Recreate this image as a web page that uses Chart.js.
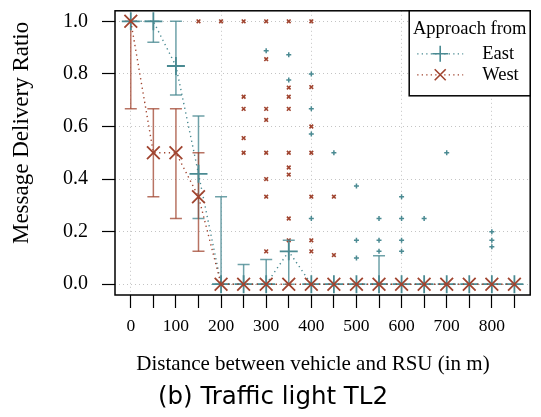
<!DOCTYPE html>
<html>
<head>
<meta charset="utf-8">
<script src="https://cdn.jsdelivr.net/npm/chart.js@4.4.0/dist/chart.umd.min.js"></script>
<style>
  html, body { margin: 0; padding: 0; background: #fff; }
  canvas { display: block; }
</style>
</head>
<body>
<canvas id="mdr" width="541" height="417"></canvas>
<script>
// distances (m) where the mean/error bars sit
const distances = [0, 50, 100, 150, 200, 250, 300, 350, 400, 450, 500, 550, 600, 650, 700, 750, 800, 850];

// approach from East
const eastMean = [1, 1, 0.83, 0.42, 0, 0, 0, 0.125, 0, 0, 0, 0, 0, 0, 0, 0, 0, 0];
const eastLow  = [1, 0.92, 0.72, 0.25, 0, 0, 0, 0, 0, 0, 0, 0, 0, 0, 0, 0, 0, 0];
const eastHigh = [1, 1, 1, 0.64, 0.333, 0.075, 0.094, 0.167, 0, 0, 0, 0.108, 0, 0, 0, 0, 0, 0];

// approach from West
const westMean = [1, 0.5, 0.5, 0.333, 0, 0, 0, 0, 0, 0, 0, 0, 0, 0, 0, 0, 0, 0];
const westLow  = [0.667, 0.333, 0.25, 0.125, 0, 0, 0, 0, 0, 0, 0, 0, 0, 0, 0, 0, 0, 0];
const westHigh = [1, 0.667, 0.667, 0.5, 0, 0, 0, 0, 0, 0, 0, 0, 0, 0, 0, 0, 0, 0];

// single runs (small markers)
const eastRunX = [300, 350, 350, 400, 400, 400, 400, 450, 500, 500, 500, 550, 550, 550, 600, 600, 600, 600, 650, 700, 800, 800, 800];
const eastRunY = [0.888, 0.873, 0.777, 0.8, 0.667, 0.571, 0.25, 0.5, 0.374, 0.167, 0.1, 0.25, 0.167, 0.125, 0.333, 0.25, 0.167, 0.125, 0.25, 0.5, 0.2, 0.167, 0.143];

const westRunX = [150, 200, 250, 250, 250, 250, 250, 300, 300, 300, 300, 300, 300, 300, 300,
  350, 350, 350, 350, 350, 350, 350, 350, 350, 400, 400, 400, 400, 400, 400, 400, 450, 450];
const westRunY = [1, 1, 1, 0.713, 0.667, 0.556, 0.5, 1, 0.856, 0.667, 0.625, 0.5, 0.4, 0.333, 0.125,
  1, 0.748, 0.713, 0.667, 0.5, 0.444, 0.417, 0.25, 0.167, 1, 0.75, 0.6, 0.5, 0.333, 0.167, 0.125, 0.333, 0.111];

const xTickVals = [0, 50, 100, 150, 200, 250, 300, 350, 400, 450, 500, 550, 600, 650, 700, 750, 800, 850];
const xLabelVals = [0, 100, 200, 300, 400, 500, 600, 700, 800];
const xGridVals = [0, 200, 400, 600, 800];
const yTickVals = [0, 0.2, 0.4, 0.6, 0.8, 1.0];

const TEAL = '#4a8a92';
const BROWN = '#a0442f';
const TEAL_BAR = 'rgba(74,138,146,0.8)';
const BROWN_BAR = 'rgba(160,68,47,0.75)';
const SERIF = '"Liberation Serif", "Times New Roman", serif';

// error bar segments: low point, high point, gap
function errorBars(low, high) {
  const pts = [];
  distances.forEach((d, i) => {
    if (high[i] - low[i] > 0.001) {
      pts.push({ x: d, y: low[i] }, { x: d, y: high[i] }, { x: d, y: null });
    }
  });
  return pts;
}

const toPts = (xs, ys) => xs.map((x, i) => ({ x: x, y: ys[i] }));

// plot box, axis titles, caption and legend
const decor = {
  id: 'decor',
  afterDatasetsDraw(chart) {
    const { ctx, chartArea: a } = chart;
    ctx.save();
    ctx.strokeStyle = '#000';
    ctx.lineWidth = 1.5;
    ctx.strokeRect(a.left, a.top, a.right - a.left, a.bottom - a.top);
    ctx.restore();
  },
  afterDraw(chart) {
    const { ctx, chartArea: a } = chart;
    ctx.save();
    ctx.fillStyle = '#000';
    ctx.textAlign = 'center';
    ctx.textBaseline = 'middle';

    // x axis title and caption
    ctx.font = '21px ' + SERIF;
    ctx.fillText('Distance between vehicle and RSU (in m)', a.left + 198, a.bottom + 69);
    ctx.font = '24.5px "DejaVu Sans", sans-serif';
    ctx.fillText('(b) Traffic light TL2', a.left + 158, a.bottom + 103);

    // y axis title
    ctx.translate(22, (a.top + a.bottom) / 2 - 20);
    ctx.rotate(-Math.PI / 2);
    ctx.font = '23px ' + SERIF;
    ctx.fillText('Message Delivery Ratio', 0, 0);
    ctx.restore();

    // legend box
    const bx = a.right - 121, by = a.top, bw = 121, bh = 85;
    ctx.save();
    ctx.fillStyle = '#fff';
    ctx.fillRect(bx, by, bw, bh);
    ctx.strokeStyle = '#000';
    ctx.lineWidth = 1.5;
    ctx.strokeRect(bx, by, bw, bh);
    ctx.fillStyle = '#000';
    ctx.font = '18.5px ' + SERIF;
    ctx.textAlign = 'center';
    ctx.textBaseline = 'middle';
    ctx.fillText('Approach from', bx + bw / 2, by + 18);
    const rows = [
      { label: 'East', color: TEAL, style: 'cross', y: by + 43 },
      { label: 'West', color: BROWN, style: 'crossRot', y: by + 64 }
    ];
    rows.forEach(r => {
      ctx.strokeStyle = r.color;
      ctx.lineWidth = 1.3;
      ctx.setLineDash([1.3, 3.2]);
      ctx.beginPath();
      ctx.moveTo(bx + 8, r.y);
      ctx.lineTo(bx + 54, r.y);
      ctx.stroke();
      ctx.setLineDash([]);
      ctx.lineWidth = 1.6;
      const cx = bx + 31;
      ctx.beginPath();
      if (r.style === 'cross') {
        ctx.moveTo(cx - 8, r.y); ctx.lineTo(cx + 8, r.y);
        ctx.moveTo(cx, r.y - 8); ctx.lineTo(cx, r.y + 8);
      } else {
        ctx.moveTo(cx - 5.5, r.y - 5.5); ctx.lineTo(cx + 5.5, r.y + 5.5);
        ctx.moveTo(cx - 5.5, r.y + 5.5); ctx.lineTo(cx + 5.5, r.y - 5.5);
      }
      ctx.stroke();
      ctx.fillStyle = '#000';
      ctx.textAlign = 'left';
      ctx.fillText(r.label, bx + 73, r.y);
    });
    ctx.restore();
  }
};

new Chart(document.getElementById('mdr'), {
  type: 'scatter',
  data: {
    datasets: [
      {
        label: 'West',
        data: toPts(distances, westMean),
        showLine: true,
        borderColor: BROWN,
        borderWidth: 1.4,
        borderDash: [1.3, 3.5],
        pointStyle: 'crossRot',
        pointRadius: 9,
        pointBorderWidth: 1.8,
        pointBorderColor: BROWN,
        pointBackgroundColor: BROWN
      },
      {
        label: 'East',
        data: toPts(distances, eastMean),
        showLine: true,
        borderColor: TEAL,
        borderWidth: 1.4,
        borderDash: [1.3, 3.5],
        pointStyle: 'cross',
        pointRadius: 9,
        pointBorderWidth: 1.8,
        pointBorderColor: TEAL,
        pointBackgroundColor: TEAL
      },
      {
        label: 'West error',
        data: errorBars(westLow, westHigh),
        showLine: true,
        spanGaps: false,
        borderColor: BROWN_BAR,
        borderWidth: 1.5,
        pointStyle: 'line',
        pointRadius: 6,
        pointBorderWidth: 1.5,
        pointBorderColor: BROWN_BAR
      },
      {
        label: 'East error',
        data: errorBars(eastLow, eastHigh),
        showLine: true,
        spanGaps: false,
        borderColor: TEAL_BAR,
        borderWidth: 1.5,
        pointStyle: 'line',
        pointRadius: 6,
        pointBorderWidth: 1.5,
        pointBorderColor: TEAL_BAR
      },
      {
        label: 'East runs',
        data: toPts(eastRunX, eastRunY),
        pointStyle: 'cross',
        pointRadius: 2.5,
        pointBorderWidth: 1.5,
        pointBorderColor: TEAL
      },
      {
        label: 'West runs',
        data: toPts(westRunX, westRunY),
        pointStyle: 'crossRot',
        pointRadius: 2.6,
        pointBorderWidth: 1.6,
        pointBorderColor: BROWN
      }
    ]
  },
  options: {
    responsive: false,
    animation: false,
    devicePixelRatio: 1,
    layout: { padding: { top: 7, right: 9, left: 0, bottom: 0 } },
    plugins: {
      legend: { display: false },
      tooltip: { enabled: false },
      title: { display: false }
    },
    scales: {
      x: {
        type: 'linear',
        min: -35,
        max: 885,
        afterBuildTicks: axis => { axis.ticks = xTickVals.map(v => ({ value: v })); },
        afterFit: s => { s.height = 122; s.paddingLeft = 0; s.paddingRight = 0; },
        border: { display: false, dash: [1, 3] },
        grid: {
          color: c => (c.tick && xGridVals.includes(c.tick.value)) ? '#c4c4c4' : 'rgba(0,0,0,0)',
          lineWidth: 1,
          tickColor: '#000',
          tickLength: 13,
          tickWidth: 1.2
        },
        ticks: {
          color: '#000',
          font: { family: SERIF, size: 17.5 },
          padding: 8,
          maxRotation: 0,
          autoSkip: false,
          callback: v => xLabelVals.includes(v) ? String(v) : ''
        }
      },
      y: {
        type: 'linear',
        min: -0.041,
        max: 1.04,
        afterBuildTicks: axis => { axis.ticks = yTickVals.map(v => ({ value: v })); },
        afterFit: s => { s.width = 115; s.paddingTop = 0; s.paddingBottom = 0; },
        border: { display: false, dash: [1, 3] },
        grid: {
          color: '#c4c4c4',
          lineWidth: 1,
          tickColor: '#000',
          tickLength: 13,
          tickWidth: 1.2
        },
        ticks: {
          color: '#000',
          font: { family: SERIF, size: 20 },
          padding: 14,
          callback: v => v.toFixed(1)
        }
      }
    }
  },
  plugins: [decor]
});
</script>
</body>
</html>
